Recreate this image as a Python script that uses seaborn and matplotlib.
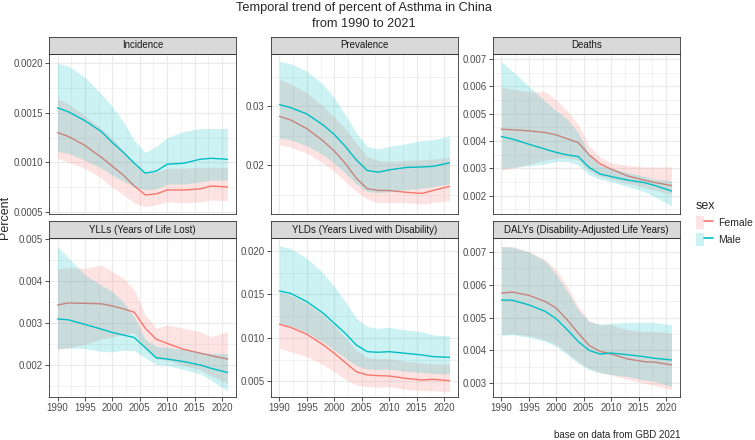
import matplotlib
matplotlib.use("Agg")
import pandas as pd
import matplotlib.pyplot as plt
import seaborn as sns
from matplotlib.ticker import MultipleLocator, FormatStrFormatter
from matplotlib.patches import Patch
from matplotlib.lines import Line2D
from matplotlib.legend_handler import HandlerTuple

# -------------------------------
# Data (percent)
# -------------------------------
years = [1990, 1992, 1995, 1998, 2000, 2002, 2004, 2006, 2008, 2010, 2013, 2016, 2018, 2021]

inc_f = [0.00130, 0.00126, 0.00117, 0.00105, 0.00096, 0.00087, 0.00076, 0.00067, 0.00068, 0.00072, 0.00072, 0.00073, 0.00076, 0.00075]
inc_f_lo = [0.00104, 0.00100, 0.00094, 0.00084, 0.00075, 0.00067, 0.00059, 0.00055, 0.00057, 0.00060, 0.00059, 0.00060, 0.00062, 0.00061]
inc_f_hi = [0.00164, 0.00159, 0.00147, 0.00134, 0.00124, 0.00112, 0.00099, 0.00089, 0.00090, 0.00094, 0.00094, 0.00095, 0.00095, 0.00095]
inc_m = [0.00155, 0.00151, 0.00142, 0.00131, 0.00120, 0.00110, 0.00099, 0.00089, 0.00091, 0.00098, 0.00099, 0.00103, 0.00104, 0.00103]
inc_m_lo = [0.00111, 0.00109, 0.00102, 0.00094, 0.00087, 0.00081, 0.00075, 0.00072, 0.00073, 0.00078, 0.00078, 0.00080, 0.00082, 0.00082]
inc_m_hi = [0.00200, 0.00197, 0.00186, 0.00169, 0.00156, 0.00141, 0.00122, 0.00110, 0.00116, 0.00125, 0.00131, 0.00134, 0.00134, 0.00134]

prev_f = [0.0283, 0.0277, 0.0262, 0.0241, 0.0224, 0.0203, 0.0178, 0.0160, 0.0157, 0.0157, 0.0154, 0.0152, 0.0157, 0.0164]
prev_f_lo = [0.02347, 0.02307, 0.02205, 0.02034, 0.01892, 0.01722, 0.01551, 0.01420, 0.01364, 0.01364, 0.01364, 0.01341, 0.01364, 0.01398]
prev_f_hi = [0.03455, 0.03386, 0.03227, 0.03000, 0.02818, 0.02614, 0.02375, 0.02148, 0.02080, 0.02063, 0.02080, 0.02091, 0.02102, 0.02131]
prev_m = [0.0303, 0.0298, 0.0287, 0.0268, 0.0252, 0.0232, 0.0209, 0.0191, 0.0188, 0.0192, 0.0196, 0.0197, 0.0198, 0.0204]
prev_m_lo = [0.02460, 0.02432, 0.02330, 0.02176, 0.02034, 0.01864, 0.01682, 0.01551, 0.01534, 0.01551, 0.01580, 0.01608, 0.01636, 0.01682]
prev_m_hi = [0.03767, 0.03727, 0.03597, 0.03369, 0.03142, 0.02858, 0.02545, 0.02318, 0.02273, 0.02318, 0.02364, 0.02420, 0.02432, 0.02500]

death_f = [0.00443, 0.00441, 0.00437, 0.00431, 0.00422, 0.00408, 0.00394, 0.00349, 0.00316, 0.00297, 0.00272, 0.00257, 0.00248, 0.00237]
death_f_lo = [0.00292, 0.00300, 0.00315, 0.00330, 0.00337, 0.00340, 0.00330, 0.00290, 0.00270, 0.00260, 0.00245, 0.00230, 0.00220, 0.00205]
death_f_hi = [0.00597, 0.00590, 0.00580, 0.00580, 0.00550, 0.00510, 0.00460, 0.00380, 0.00340, 0.00320, 0.00310, 0.00305, 0.00305, 0.00305]
death_m = [0.00416, 0.00407, 0.00388, 0.00370, 0.00358, 0.00349, 0.00343, 0.00303, 0.00279, 0.00270, 0.00257, 0.00248, 0.00237, 0.00217]
death_m_lo = [0.00300, 0.00304, 0.00309, 0.00316, 0.00325, 0.00325, 0.00312, 0.00276, 0.00260, 0.00251, 0.00233, 0.00215, 0.00196, 0.00162]
death_m_hi = [0.00690, 0.00655, 0.00600, 0.00545, 0.00510, 0.00480, 0.00430, 0.00350, 0.00310, 0.00300, 0.00285, 0.00270, 0.00260, 0.00255]

yll_f = [0.00343, 0.00348, 0.00347, 0.00346, 0.00341, 0.00334, 0.00326, 0.00288, 0.00262, 0.00252, 0.00238, 0.00229, 0.00223, 0.00215]
yll_f_lo = [0.00238, 0.00242, 0.00250, 0.00262, 0.00268, 0.00272, 0.00278, 0.00240, 0.00215, 0.00212, 0.00200, 0.00190, 0.00175, 0.00157]
yll_f_hi = [0.00428, 0.00432, 0.00430, 0.00438, 0.00422, 0.00407, 0.00379, 0.00320, 0.00288, 0.00296, 0.00288, 0.00280, 0.00268, 0.00280]
yll_m = [0.00310, 0.00308, 0.00297, 0.00286, 0.00278, 0.00272, 0.00266, 0.00242, 0.00218, 0.00215, 0.00209, 0.00201, 0.00193, 0.00183]
yll_m_lo = [0.00240, 0.00241, 0.00240, 0.00233, 0.00232, 0.00236, 0.00235, 0.00218, 0.00202, 0.00200, 0.00190, 0.00180, 0.00165, 0.00140]
yll_m_hi = [0.00482, 0.00455, 0.00415, 0.00390, 0.00375, 0.00350, 0.00315, 0.00262, 0.00245, 0.00243, 0.00238, 0.00232, 0.00228, 0.00228]

yld_f = [0.01156, 0.01121, 0.01041, 0.00918, 0.00822, 0.00715, 0.00611, 0.00573, 0.00565, 0.00561, 0.00534, 0.00515, 0.00523, 0.00507]
yld_f_lo = [0.00880, 0.00841, 0.00784, 0.00688, 0.00611, 0.00523, 0.00458, 0.00438, 0.00431, 0.00438, 0.00408, 0.00392, 0.00392, 0.00381]
yld_f_hi = [0.01532, 0.01490, 0.01400, 0.01260, 0.01140, 0.01000, 0.00860, 0.00770, 0.00760, 0.00765, 0.00730, 0.00710, 0.00700, 0.00700]
yld_m = [0.01540, 0.01513, 0.01417, 0.01283, 0.01167, 0.01052, 0.00918, 0.00841, 0.00834, 0.00841, 0.00822, 0.00803, 0.00784, 0.00776]
yld_m_lo = [0.01170, 0.01140, 0.01060, 0.00950, 0.00860, 0.00770, 0.00680, 0.00640, 0.00635, 0.00640, 0.00615, 0.00600, 0.00590, 0.00585]
yld_m_hi = [0.02058, 0.02031, 0.01916, 0.01743, 0.01589, 0.01417, 0.01225, 0.01129, 0.01110, 0.01121, 0.01091, 0.01071, 0.01033, 0.01022]

daly_f = [0.00575, 0.00578, 0.00568, 0.00549, 0.00529, 0.00493, 0.00453, 0.00415, 0.00397, 0.00389, 0.00374, 0.00366, 0.00364, 0.00356]
daly_f_lo = [0.00450, 0.00452, 0.00445, 0.00432, 0.00418, 0.00393, 0.00365, 0.00345, 0.00333, 0.00325, 0.00312, 0.00300, 0.00293, 0.00280]
daly_f_hi = [0.00717, 0.00717, 0.00702, 0.00677, 0.00646, 0.00595, 0.00534, 0.00490, 0.00478, 0.00478, 0.00463, 0.00458, 0.00458, 0.00453]
daly_m = [0.00554, 0.00553, 0.00539, 0.00519, 0.00496, 0.00463, 0.00427, 0.00400, 0.00389, 0.00392, 0.00387, 0.00381, 0.00376, 0.00371]
daly_m_lo = [0.00446, 0.00448, 0.00440, 0.00427, 0.00412, 0.00387, 0.00361, 0.00341, 0.00331, 0.00327, 0.00320, 0.00310, 0.00305, 0.00290]
daly_m_hi = [0.00717, 0.00715, 0.00700, 0.00672, 0.00631, 0.00580, 0.00524, 0.00488, 0.00480, 0.00483, 0.00486, 0.00486, 0.00486, 0.00478]

measures = ["Incidence", "Prevalence", "Deaths",
            "YLLs (Years of Life Lost)", "YLDs (Years Lived with Disability)",
            "DALYs (Disability-Adjusted Life Years)"]
series = {
    "Incidence": (inc_f, inc_f_lo, inc_f_hi, inc_m, inc_m_lo, inc_m_hi),
    "Prevalence": (prev_f, prev_f_lo, prev_f_hi, prev_m, prev_m_lo, prev_m_hi),
    "Deaths": (death_f, death_f_lo, death_f_hi, death_m, death_m_lo, death_m_hi),
    "YLLs (Years of Life Lost)": (yll_f, yll_f_lo, yll_f_hi, yll_m, yll_m_lo, yll_m_hi),
    "YLDs (Years Lived with Disability)": (yld_f, yld_f_lo, yld_f_hi, yld_m, yld_m_lo, yld_m_hi),
    "DALYs (Disability-Adjusted Life Years)": (daly_f, daly_f_lo, daly_f_hi, daly_m, daly_m_lo, daly_m_hi),
}

rows = []
for m in measures:
    f, f_lo, f_hi, ml, m_lo, m_hi = series[m]
    for i, y in enumerate(years):
        rows.append((m, "Female", y, f[i], f_lo[i], f_hi[i]))
        rows.append((m, "Male", y, ml[i], m_lo[i], m_hi[i]))
df = pd.DataFrame(rows, columns=["measure", "sex", "year", "val", "lower", "upper"])

# y-axis settings per panel: limits, tick step, decimals
yaxis = {
    "Incidence": (0.000477, 0.002094, 0.0005, 4),
    "Prevalence": (0.0117, 0.0389, 0.01, 2),
    "Deaths": (0.00133, 0.00718, 0.001, 3),
    "YLLs (Years of Life Lost)": (0.00125, 0.00502, 0.001, 3),
    "YLDs (Years Lived with Disability)": (0.00319, 0.0215, 0.005, 3),
    "DALYs (Disability-Adjusted Life Years)": (0.00258, 0.00743, 0.001, 3),
}

sns.set_style("white")
plt.rcParams['font.family'] = ['Liberation Sans', 'DejaVu Sans']

palette = {"Female": "#F8766D", "Male": "#00BFC4"}
W, H = 755, 440


def px_rect(x0, y0, x1, y1):
    return [x0 / W, 1 - y1 / H, (x1 - x0) / W, (y1 - y0) / H]


fig = plt.figure(figsize=(W / 100, H / 100), dpi=100)

col_x = [49, 271, 493]
pw = 187
row_y = [(37, 54, 214), (221, 238, 397)]

for k, m in enumerate(measures):
    r, c = divmod(k, 3)
    st, pt, pb = row_y[r]
    x0 = col_x[c]
    ax = fig.add_axes(px_rect(x0, pt, x0 + pw, pb))
    sub = df[df["measure"] == m]
    z = 2
    for sex in ["Female", "Male"]:
        s = sub[sub["sex"] == sex]
        ax.fill_between(s["year"], s["lower"], s["upper"], color=palette[sex],
                        alpha=0.2, linewidth=0, zorder=z)
        sns.lineplot(data=s, x="year", y="val", color=palette[sex], ax=ax,
                     linewidth=1.0, zorder=z + 1)
        z += 2

    lo, hi, step, dec = yaxis[m]
    ax.set_ylim(lo, hi)
    ax.set_xlim(1990 - 1.55, 2021 + 1.55)
    ax.yaxis.set_major_locator(MultipleLocator(step))
    ax.yaxis.set_minor_locator(MultipleLocator(step / 2))
    ax.yaxis.set_major_formatter(FormatStrFormatter("%." + str(dec) + "f"))
    ax.xaxis.set_major_locator(MultipleLocator(5))
    ax.xaxis.set_minor_locator(MultipleLocator(2.5))
    ax.set_xlabel("")
    ax.set_ylabel("")
    ax.grid(which="major", color="#EBEBEB", linewidth=0.9)
    ax.grid(which="minor", color="#EBEBEB", linewidth=0.45)
    ax.set_axisbelow(True)
    for sp in ax.spines.values():
        sp.set_color("#333333")
        sp.set_linewidth(0.6)
    ax.tick_params(which="major", length=3, width=0.6, color="#333333",
                   labelsize=7, labelcolor="#4D4D4D", pad=1.5,
                   left=True, bottom=True)
    ax.tick_params(which="minor", length=0)
    if r == 0:
        ax.tick_params(axis="x", which="major", length=0, labelbottom=False)

    strip = fig.add_axes(px_rect(x0, st, x0 + pw, pt))
    strip.set_facecolor("#D9D9D9")
    strip.set_xticks([])
    strip.set_yticks([])
    for sp in strip.spines.values():
        sp.set_color("#333333")
        sp.set_linewidth(0.6)
    strip.text(0.5, 0.5, m, ha="center", va="center", fontsize=7,
               color="#1A1A1A", transform=strip.transAxes)

fig.text(364 / W, 1 - 2 / H, "Temporal trend of percent of Asthma in China\nfrom 1990 to 2021",
         ha="center", va="top", fontsize=9.2, linespacing=1.45)
fig.text(5 / W, 1 - 217 / H, "Percent", rotation=90, ha="center", va="center", fontsize=9)
fig.text(680 / W, 1 - 435 / H, "base on data from GBD 2021", ha="right", va="center",
         fontsize=7)

handles = [(Patch(facecolor=palette[s], alpha=0.2, linewidth=0),
            Line2D([], [], color=palette[s], linewidth=1.2)) for s in ["Female", "Male"]]
fig.legend(handles, ["Female", "Male"], title="sex", loc="upper left",
           bbox_to_anchor=(696 / W, 1 - 200 / H), frameon=False, fontsize=7.5,
           title_fontsize=9, alignment="left", borderpad=0, borderaxespad=0,
           handler_map={tuple: HandlerTuple(ndivide=None, pad=0)},
           handlelength=1.6, handleheight=1.6, labelspacing=0.35, handletextpad=0.5)

fig.savefig("out.png", dpi=100)
